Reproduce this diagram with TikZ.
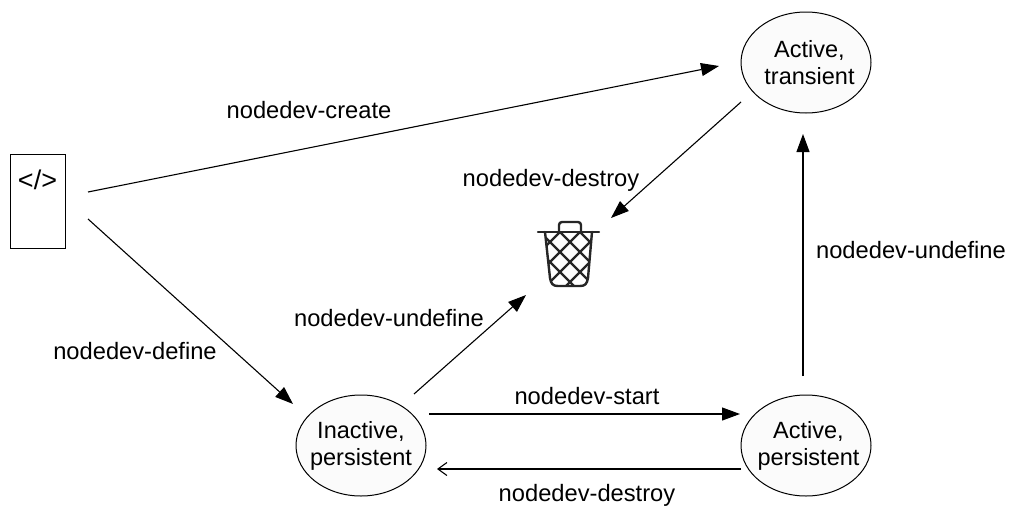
\documentclass[tikz,border=0pt]{standalone}
\usepackage{fontspec}
\setmainfont{Liberation Sans}
\usetikzlibrary{arrows.meta,shapes.geometric}
\definecolor{nodefill}{HTML}{FBFBFB}
\tikzset{
  state/.style={draw=black,line width=1pt,ellipse,minimum width=130pt,minimum height=101pt,inner sep=-10pt,align=center,font=\fontsize{23.5}{27}\selectfont,fill=nodefill},
  lbl/.style={font=\fontsize{23.7}{27}\selectfont,inner sep=0pt},
  conn/.style={draw=black,line width=1.1pt,-{Triangle[length=18pt,width=13pt]}},
  openconn/.style={draw=black,line width=1.1pt,-{Straight Barb[length=9pt,width=13pt,line width=1.1pt]}},
  bin/.style={draw=black!85,line width=2.4pt,line join=round,line cap=round},
}
\begin{document}
\begin{tikzpicture}[x=1pt,y=-1pt]
\useasboundingbox (0,0) rectangle (1009,506);
\node[draw=black,line width=1pt,minimum width=55pt,minimum height=94pt,inner sep=0pt] (xml) at (37.5,201) {};
\node[font=\fontsize{27}{28}\selectfont,inner sep=0pt] (xmltxt) at (37.5,180) {</>};
\node[state] (transient) at (806,62.5) {\hspace*{7pt}Active,\\\hspace*{7pt}transient};
\node[state] (inactive) at (361,445.5) {Inactive,\\persistent};
\node[state] (active) at (806,445.5) {\hspace*{5pt}Active,\\\hspace*{5pt}persistent};
\coordinate (trashA) at (611,218);
\coordinate (trashB) at (526,295);
\coordinate (xmlA) at (88,192);
\coordinate (xmlB) at (88,219);
\coordinate (createEnd) at (719,66);
\coordinate (defineEnd) at (293,404);
\coordinate (destroyStart) at (741,102);
\coordinate (undefStart) at (414,394);
\coordinate (startA) at (429,414);
\coordinate (startB) at (740,414);
\coordinate (destroyA) at (741,469);
\coordinate (destroyB) at (437,469);
\coordinate (upA) at (803,376);
\coordinate (upB) at (803,134);
\draw[conn] (xmlA) -- (createEnd);
\draw[conn] (xmlB) -- (defineEnd);
\draw[conn] (destroyStart) -- (trashA);
\draw[conn] (undefStart) -- (trashB);
\draw[conn] (startA) -- (startB);
\draw[openconn] (destroyA) -- (destroyB);
\draw[conn] (upA) -- (upB);
\node[lbl] (l1) at (309,110) {nodedev-create};
\node[lbl] (l2) at (551,180) {nodedev-destroy};
\node[lbl] (l3) at (911,250) {nodedev-undefine};
\node[lbl] (l4) at (389,318) {nodedev-undefine};
\node[lbl] (l5) at (135,351) {nodedev-define};
\node[lbl] (l6) at (587,396) {nodedev-start};
\node[lbl] (l7) at (587,495) {nodedev-destroy};
% trash can
\draw[bin] (538,232) -- (599,232);
\draw[bin,rounded corners=3pt] (559,232) -- (559,222) -- (581,222) -- (581,232);
\draw[bin] (545,232) -- (550,278) .. controls (551,284) and (553,286) .. (558,286) -- (580,286) .. controls (585,286) and (587,284) .. (588,278) -- (592,232);
\begin{scope}
\clip (545,232) -- (550,278) .. controls (551,284) and (553,286) .. (558,286) -- (580,286) .. controls (585,286) and (587,284) .. (588,278) -- (592,232) -- cycle;
\foreach \d in {-38,-18,2,22,42,62}{
  \draw[bin] (568+\d-30,232) -- (568+\d+30,292);
  \draw[bin] (568+\d+30,232) -- (568+\d-30,292);
}
\end{scope}
\end{tikzpicture}
\end{document}
